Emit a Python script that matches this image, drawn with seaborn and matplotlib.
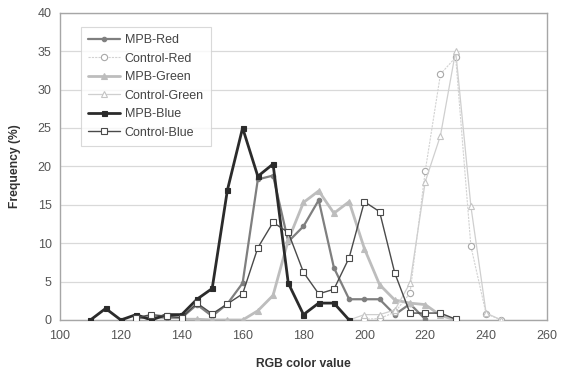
import numpy as np
import pandas as pd
import matplotlib
matplotlib.use("Agg")
import matplotlib.pyplot as plt
import seaborn as sns

# ---- data ----
x_mpb_red = list(range(125, 221, 5))
mpb_red = [0.2, 0.4, 0.3, 0.3, 2.0, 0.5, 2.1, 4.8, 18.3, 18.8, 10.2, 12.2, 15.6, 6.8, 2.7, 2.7, 2.7, 0.7, 2.1, 0.1]

x_ctrl_red = list(range(200, 246, 5))
ctrl_red = [0.1, 0.2, 1.0, 3.5, 19.4, 32.0, 34.2, 9.6, 0.8, 0.0]

x_mpb_green = list(range(140, 231, 5))
mpb_green = [0.1, 0.1, 0.0, 0.0, 0.0, 1.2, 3.2, 10.4, 15.3, 16.8, 13.9, 15.4, 9.3, 4.6, 2.6, 2.2, 2.0, 0.6, 0.0]

x_ctrl_green = list(range(195, 246, 5))
ctrl_green = [0.0, 0.7, 0.7, 1.3, 4.8, 18.0, 24.0, 35.0, 14.8, 0.9, 0.0]

x_mpb_blue = list(range(110, 196, 5))
mpb_blue = [0.0, 1.5, 0.0, 0.7, 0.0, 0.7, 0.7, 2.7, 4.1, 16.9, 25.0, 18.7, 20.3, 4.8, 0.7, 2.2, 2.2, 0.0]

x_ctrl_blue = list(range(125, 231, 5))
ctrl_blue = [0.3, 0.7, 0.5, 0.3, 2.2, 0.8, 2.1, 3.4, 9.4, 12.7, 11.4, 6.2, 3.4, 4.0, 8.1, 15.4, 14.1, 6.1, 0.9, 0.9, 0.9, 0.1]

x_ticks = [100, 120, 140, 160, 180, 200, 220, 240, 260]
y_ticks = [0, 5, 10, 15, 20, 25, 30, 35, 40]

series = [
    ("MPB-Red", x_mpb_red, mpb_red, dict(color="#7f7f7f", lw=1.6, marker="o", ms=3.2, mfc="#7f7f7f", mec="#7f7f7f")),
    ("Control-Red", x_ctrl_red, ctrl_red, dict(color="#d2d2d2", lw=0.8, marker="o", ms=4.5, mfc="white", mec="#a8a8a8", ls=(0, (2, 1)))),
    ("MPB-Green", x_mpb_green, mpb_green, dict(color="#bdbdbd", lw=2.0, marker="^", ms=3.8, mfc="#bdbdbd", mec="#bdbdbd")),
    ("Control-Green", x_ctrl_green, ctrl_green, dict(color="#cfcfcf", lw=0.9, marker="^", ms=4, mfc="white", mec="#c4c4c4")),
    ("MPB-Blue", x_mpb_blue, mpb_blue, dict(color="#2b2b2b", lw=2.0, marker="s", ms=3.6, mfc="#2b2b2b", mec="#2b2b2b")),
    ("Control-Blue", x_ctrl_blue, ctrl_blue, dict(color="#4a4a4a", lw=1.0, marker="s", ms=4.5, mfc="white", mec="#4a4a4a")),
]

sns.set_style("white")
plt.rcParams["font.family"] = ["Liberation Sans", "DejaVu Sans"]

fig = plt.figure(figsize=(5.67, 3.72), dpi=100)
ax = fig.add_axes([0.1058, 0.1398, 0.8589, 0.8261])

for name, xs, ys, st in series:
    df = pd.DataFrame({"x": xs, "y": ys})
    sns.lineplot(data=df, x="x", y="y", ax=ax, label=name, color=st["color"],
                 linewidth=st["lw"], marker=st["marker"], markersize=st["ms"],
                 markerfacecolor=st["mfc"], markeredgecolor=st["mec"],
                 markeredgewidth=0.8, linestyle=st.get("ls", "-"), zorder=3)

ax.set_xlim(100, 260)
ax.set_ylim(0, 40)
ax.set_xticks(x_ticks)
ax.set_yticks(y_ticks)
ax.set_xticklabels([str(v) for v in x_ticks])
ax.set_yticklabels([str(v) for v in y_ticks])
ax.yaxis.grid(True, color="#d9d9d9", linewidth=0.9)
ax.set_axisbelow(True)
for s in ax.spines.values():
    s.set_color("#a6a6a6")
    s.set_linewidth(1.0)
ax.tick_params(axis="y", length=3, color="#a6a6a6", labelsize=9, labelcolor="#555555", pad=3)
ax.tick_params(axis="x", length=0, labelsize=9, labelcolor="#555555", pad=7)
ax.set_xlabel("RGB color value", fontsize=8.7, fontweight="bold", color="#333333", labelpad=12)
ax.set_ylabel("Frequency (%)", fontsize=8.7, fontweight="bold", color="#333333", labelpad=12)

leg = ax.legend(loc="upper left", bbox_to_anchor=(0.043, 0.952), borderaxespad=0,
                frameon=True, fancybox=False, fontsize=9, labelspacing=0.52,
                handlelength=2.6, handletextpad=0.35, borderpad=0.55)
leg.get_frame().set_edgecolor("#d0d0d0")
leg.get_frame().set_linewidth(0.8)
for t in leg.get_texts():
    t.set_color("#444444")

fig.savefig("out.png", dpi=100)
